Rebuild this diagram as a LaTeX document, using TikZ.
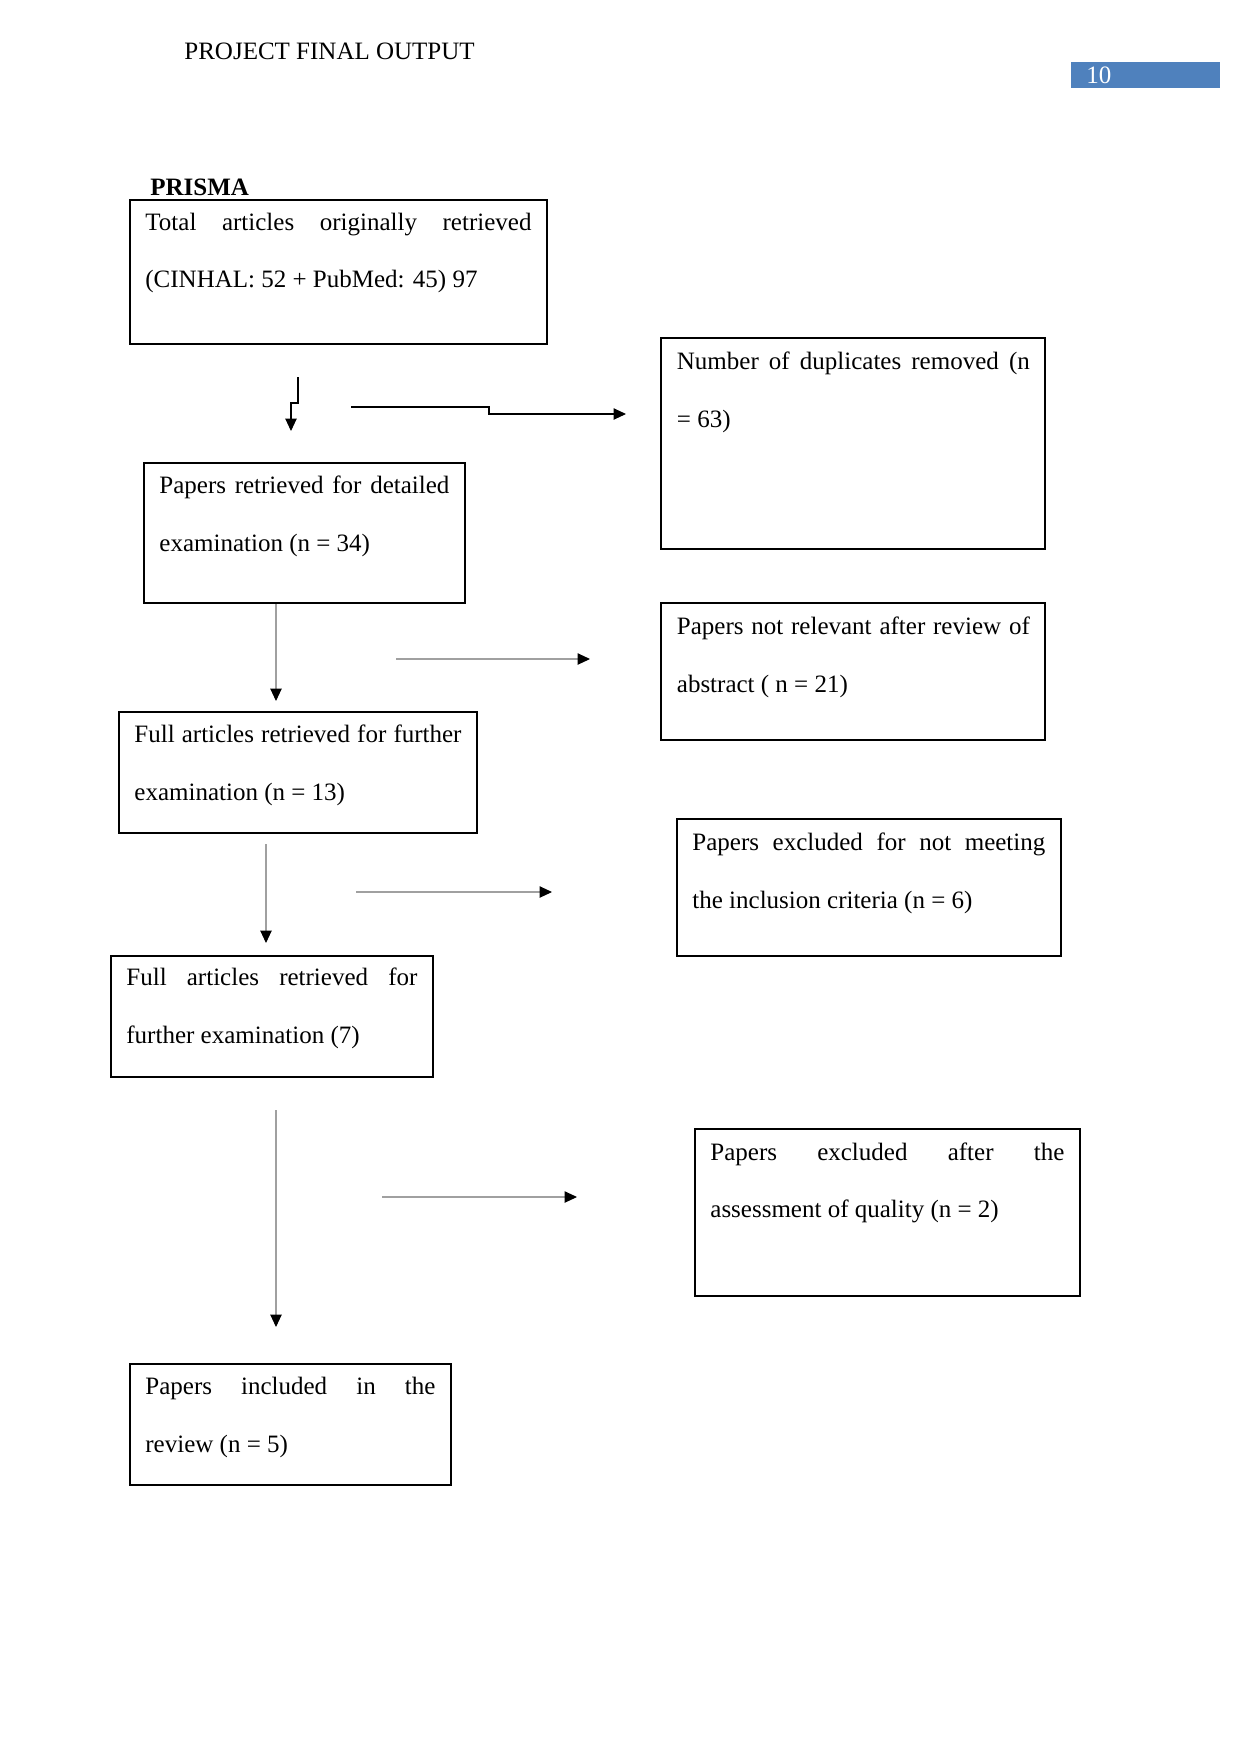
\documentclass[tikz,border=0pt]{standalone}
\usepackage{fontspec}
\setmainfont{Liberation Serif}
\usetikzlibrary{arrows.meta}
\definecolor{pagebox}{RGB}{79,129,189}
\definecolor{lngray}{RGB}{160,160,160}
\begin{document}
\begin{tikzpicture}[x=0.48pt,y=-0.48pt,
  box/.style={draw, line width=0.6pt, anchor=north west, inner sep=0pt, outer sep=0pt},
  txt/.style={anchor=base west, inner sep=0pt, font=\fontsize{12}{14}\selectfont},
  conn/.style={line width=0.5pt, -{Triangle[length=6pt,width=5.5pt]}},
  gconn/.style={conn, draw=lngray, -{Triangle[length=6pt,width=5.5pt,fill=black,color=black]}}]
\useasboundingbox (0,0) rectangle (1241,1754);
\fill[white] (0,0) rectangle (1241,1754);
% header
\node[txt] (hdr) at (184,59) {PROJECT FINAL OUTPUT};
\node[fill=pagebox, anchor=north west, minimum width=149*0.48pt, minimum height=26*0.48pt, inner sep=0pt] (pg) at (1071,62) {};
\node[txt, text=white] (pgn) at (1086,83) {10};
\node[txt, font=\fontsize{12}{14}\selectfont\bfseries] (prisma) at (150,195) {PRISMA};
% boxes
\node[box, minimum width=417*0.48pt, minimum height=144*0.48pt] (b1) at (130,200) {};
\node[txt] (t1a) at (145,230.5) {\makebox[185.3pt][s]{Total articles originally retrieved}};
\node[txt] (t1b) at (145,287.5) {(CINHAL: 52 + PubMed: 45) 97};

\node[box, minimum width=384*0.48pt, minimum height=211*0.48pt] (b2) at (661,338) {};
\node[txt] (t2a) at (676.5,369.5) {\makebox[169.4pt][s]{Number of duplicates removed (n}};
\node[txt] (t2b) at (676.5,427.5) {= 63)};

\node[box, minimum width=321*0.48pt, minimum height=140*0.48pt] (b3) at (144,463) {};
\node[txt] (t3a) at (159,493.5) {\makebox[139.2pt][s]{Papers retrieved for detailed}};
\node[txt] (t3b) at (159,551.5) {examination (n = 34)};

\node[box, minimum width=384*0.48pt, minimum height=137*0.48pt] (b4) at (661,603) {};
\node[txt] (t4a) at (676.5,634.5) {\makebox[169.4pt][s]{Papers not relevant after review of}};
\node[txt] (t4b) at (676.5,692.5) {abstract ( n = 21)};

\node[box, minimum width=358*0.48pt, minimum height=121*0.48pt] (b5) at (119,712) {};
\node[txt] (t5a) at (134,742.5) {\makebox[157pt][s]{Full articles retrieved for further}};
\node[txt] (t5b) at (134,800.5) {examination (n = 13)};

\node[box, minimum width=384*0.48pt, minimum height=137*0.48pt] (b6) at (677,819) {};
\node[txt] (t6a) at (692,850.5) {\makebox[169.4pt][s]{Papers excluded for not meeting}};
\node[txt] (t6b) at (692,908.5) {the inclusion criteria (n = 6)};

\node[box, minimum width=322*0.48pt, minimum height=121*0.48pt] (b7) at (111,956) {};
\node[txt] (t7a) at (126,985.5) {\makebox[139.7pt][s]{Full articles retrieved for}};
\node[txt] (t7b) at (126,1043.5) {further examination (7)};

\node[box, minimum width=385*0.48pt, minimum height=167*0.48pt] (b8) at (695,1129) {};
\node[txt] (t8a) at (710,1160.5) {\makebox[169.9pt][s]{Papers excluded after the}};
\node[txt] (t8b) at (710,1217.5) {assessment of quality (n = 2)};

\node[box, minimum width=321*0.48pt, minimum height=121*0.48pt] (b9) at (130,1364) {};
\node[txt] (t9a) at (145,1394.5) {\makebox[139.2pt][s]{Papers included in the}};
\node[txt] (t9b) at (145,1452.5) {review (n = 5)};
% connectors
\coordinate (a1s) at (298,377); \coordinate (a1e) at (291,431);
\coordinate (a2s) at (351,407); \coordinate (a2e) at (626,414);
\coordinate (a3s) at (276,604); \coordinate (a3e) at (276,701);
\coordinate (a4s) at (396,659); \coordinate (a4e) at (590,659);
\coordinate (a5s) at (266,844); \coordinate (a5e) at (266,943);
\coordinate (a6s) at (356,892); \coordinate (a6e) at (552,892);
\coordinate (a7s) at (276,1110); \coordinate (a7e) at (276,1327);
\coordinate (a8s) at (382,1197); \coordinate (a8e) at (577,1197);
\draw[conn] (a1s) -- ++(0,26) -| (a1e);
\draw[conn] (a2s) -- (489,407) |- (a2e);
\draw[gconn] (a3s) -- (a3e);
\draw[gconn] (a4s) -- (a4e);
\draw[gconn] (a5s) -- (a5e);
\draw[gconn] (a6s) -- (a6e);
\draw[gconn] (a7s) -- (a7e);
\draw[gconn] (a8s) -- (a8e);
\end{tikzpicture}
\end{document}
